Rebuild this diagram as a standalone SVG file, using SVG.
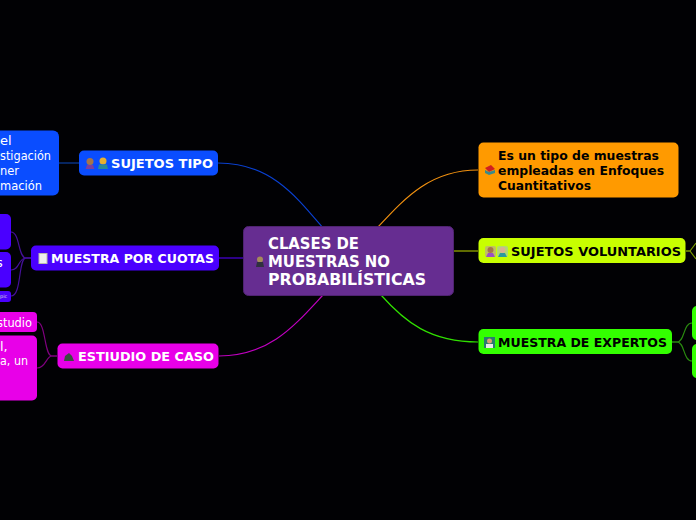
<svg xmlns="http://www.w3.org/2000/svg" width="696" height="520" viewBox="0 0 696 520">
<style>
text{font-family:"DejaVu Sans",sans-serif}
.b{font-weight:700;font-size:13px}
.t{font-weight:700;font-size:16px;fill:#fff}
.w{fill:#fff}.k{fill:#000}
.r{font-size:13px;fill:#fff}
.c{fill:none;stroke-width:1.200}
</style>
<rect width="696" height="520" fill="#010104"/>
<g id="connectors">
<path class="c" stroke="#0a40d0" d="M218 163C270 163 295 195 323 228"/>
<path class="c" stroke="#0a3fa0" d="M79 163H59"/>
<path class="c" stroke="#4a00e0" d="M219 258H244"/>
<path class="c" stroke="#45109a" d="M31 258H26C18 258 20 232 11 232"/>
<path class="c" stroke="#45109a" d="M31 258H26C18 258 20 270 11 270"/>
<path class="c" stroke="#45109a" d="M31 258H26C18 258 22 296 11 296"/>
<path class="c" stroke="#c000c0" d="M219 356C270 356 295 325 323 295"/>
<path class="c" stroke="#800080" d="M57 356H52C44 356 46 322 37 322"/>
<path class="c" stroke="#800080" d="M57 356H52C46 356 46 368 37 368"/>
<path class="c" stroke="#f09010" d="M478 170C430 170 405 198 378 227"/>
<path class="c" stroke="#a0b400" d="M453 251H478"/>
<path class="c" stroke="#7a9a00" d="M686 251H690L696 243"/>
<path class="c" stroke="#7a9a00" d="M686 251H690L696 259"/>
<path class="c" stroke="#30e000" d="M478 342C430 342 405 322 381 295"/>
<path class="c" stroke="#2a8a10" d="M672 342H677C685 342 683 323 692 323"/>
<path class="c" stroke="#2a8a10" d="M672 342H677C685 342 683 361 692 361"/>
</g>
<g id="root"><rect x="243.500" y="226.500" width="210" height="69" rx="5" fill="#662d91" stroke="#4f2371"/>
<circle cx="260" cy="259.500" r="3" fill="#a58a5a"/><path d="M256 267L257 262H263L264 267Z" fill="#303040"/>
<text x="268" y="249" class="t" textLength="91" lengthAdjust="spacingAndGlyphs">CLASES DE</text>
<text x="268" y="267" class="t" textLength="122" lengthAdjust="spacingAndGlyphs">MUESTRAS NO</text>
<text x="268" y="285" class="t" textLength="158" lengthAdjust="spacingAndGlyphs">PROBABILÍSTICAS</text></g>
<g id="sujetos-tipo-text"><rect x="-20" y="130.500" width="79" height="65" rx="6" fill="#0a4dff"/>
<text x="0" y="145" class="r">el</text>
<text x="0" y="160" class="r" textLength="51" lengthAdjust="spacingAndGlyphs">stigación</text>
<text x="0" y="175" class="r" textLength="19" lengthAdjust="spacingAndGlyphs">ner</text>
<text x="0" y="190" class="r" textLength="42" lengthAdjust="spacingAndGlyphs">mación</text></g>
<g id="sujetos-tipo"><rect x="79" y="150.500" width="139" height="25" rx="5" fill="#0a4dff"/>
<circle cx="90" cy="161.500" r="3.500" fill="#a5754a"/><path d="M85.500 169L87 165H93L94.500 169Z" fill="#7a3fa0"/>
<circle cx="103" cy="161" r="3.500" fill="#e8b030"/><path d="M98 169L99 164.500H107L108 169Z" fill="#2a8a9a"/>
<text x="111" y="168" class="b w" textLength="102" lengthAdjust="spacingAndGlyphs">SUJETOS TIPO</text></g>
<g id="cuota-1"><rect x="-20" y="214" width="31" height="35.500" rx="5" fill="#4a00ff"/></g>
<g id="cuota-2"><rect x="-20" y="252" width="31" height="35.500" rx="5" fill="#4a00ff"/><text x="-4" y="267" class="r">s</text></g>
<g id="cuota-3"><rect x="-20" y="291" width="31" height="11" rx="3" fill="#4a00ff"/><text x="0" y="298" font-size="5" fill="#ddd">pic</text></g>
<g id="muestra-cuotas"><rect x="31" y="245.500" width="188" height="25" rx="5" fill="#4a00ff"/>
<rect x="39" y="253.500" width="8" height="10" fill="#eee" stroke="#bba"/>
<text x="51" y="263" class="b w" textLength="163" lengthAdjust="spacingAndGlyphs">MUESTRA POR CUOTAS</text></g>
<g id="caso-1"><rect x="-20" y="312" width="57" height="20" rx="4" fill="#e800e8"/><text x="-3" y="327" class="r" textLength="35" lengthAdjust="spacingAndGlyphs">studio</text></g>
<g id="caso-2"><rect x="-20" y="335.500" width="57" height="65" rx="5" fill="#e800e8"/>
<text x="0" y="351" class="r">l,</text>
<text x="0" y="365" class="r" textLength="28" lengthAdjust="spacingAndGlyphs">a, un</text></g>
<g id="estudio-caso"><rect x="57.500" y="343.500" width="161" height="25" rx="5" fill="#e800e8"/>
<path d="M64 361L65 356L69 353L72 356L74 361Z" fill="#3a5040"/>
<text x="78" y="361" class="b w" textLength="136" lengthAdjust="spacingAndGlyphs">ESTIUDIO DE CASO</text></g>
<g id="enfoques"><rect x="478.500" y="142.500" width="200" height="55" rx="5" fill="#ff9a00"/>
<path d="M485 168L491 165L495 169L489 172Z" fill="#d02020"/><path d="M485 170L489 172L495 170V173L489 175L485 173Z" fill="#3a8a8a"/>
<text x="498" y="160" class="b k" textLength="161" lengthAdjust="spacingAndGlyphs">Es un tipo de muestras</text>
<text x="498" y="175" class="b k" textLength="166" lengthAdjust="spacingAndGlyphs">empleadas en Enfoques</text>
<text x="498" y="190" class="b k" textLength="93" lengthAdjust="spacingAndGlyphs">Cuantitativos</text></g>
<g id="sujetos-voluntarios"><rect x="478.500" y="238" width="207" height="25" rx="5" fill="#c8ff00"/>
<rect x="485" y="246" width="11" height="11" rx="2" fill="#c0c060"/><circle cx="490.500" cy="250" r="3" fill="#a5754a"/><path d="M486 257L488 253H493L495 257Z" fill="#9a50c0"/>
<rect x="497" y="246" width="11" height="11" rx="2" fill="#b0d870"/><circle cx="502.500" cy="250" r="3" fill="#d8b090"/><path d="M498 257L500 253H505L507 257Z" fill="#2a9a9a"/>
<text x="511" y="256" class="b k" textLength="170" lengthAdjust="spacingAndGlyphs">SUJETOS VOLUNTARIOS</text></g>
<g id="expertos"><rect x="478.500" y="329" width="193.500" height="25" rx="5" fill="#33ff00"/>
<rect x="484" y="337" width="11" height="11" fill="#2a7a70"/><circle cx="489.500" cy="341" r="2.500" fill="#d8a070"/><rect x="486" y="344" width="7" height="4" fill="#e8e8e8"/>
<text x="498" y="347" class="b k" textLength="169" lengthAdjust="spacingAndGlyphs">MUESTRA DE EXPERTOS</text></g>
<g id="exp-1"><rect x="692" y="306" width="24" height="34" rx="5" fill="#33ff00"/></g>
<g id="exp-2"><rect x="692" y="344" width="24" height="34" rx="5" fill="#33ff00"/></g>
</svg>
